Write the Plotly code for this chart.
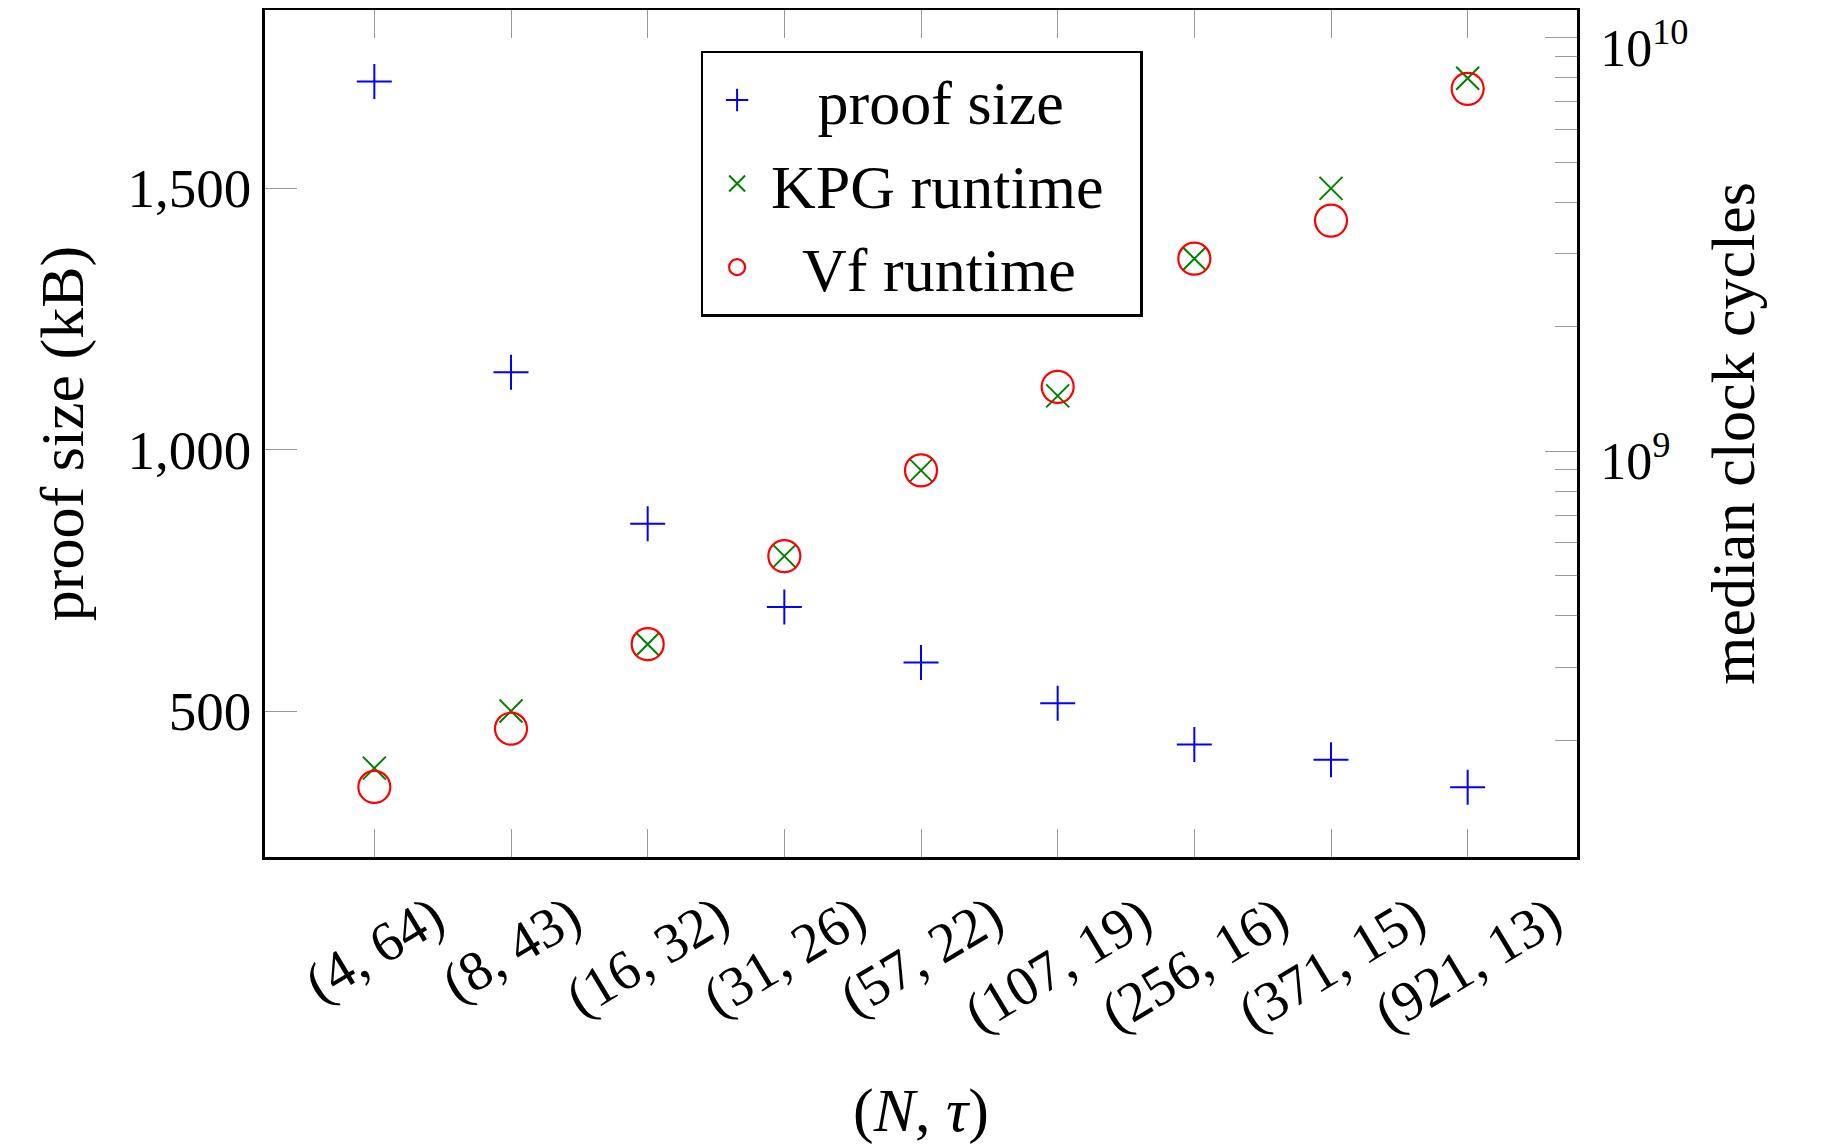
import plotly.graph_objects as go

labels = ["(4, 64)", "(8, 43)", "(16, 32)", "(31, 26)", "(57, 22)",
          "(107, 19)", "(256, 16)", "(371, 15)", "(921, 13)"]
proof_size = [1704, 1148, 858, 699, 593, 515, 436, 407, 354]
kpg_runtime = [1.71e8, 2.35e8, 3.41e8, 5.57e8, 8.98e8, 1.36e9, 2.92e9, 4.32e9, 7.98e9]
vf_runtime = [1.54e8, 2.13e8, 3.41e8, 5.57e8, 8.98e8, 1.43e9, 2.92e9, 3.61e9, 7.52e9]
left_ticks = [500, 1000, 1500]
left_ticktext = ["500", "1,000", "1,500"]
right_ticks = [1e9, 1e10]
right_ticktext = ["10<sup>9</sup>", "10<sup>10</sup>"]

FONT = "Liberation Serif"
NB = "\u00a0"

fig = go.Figure()
fig.add_trace(go.Scatter(
    x=labels, y=proof_size, mode="markers", name=NB * 3 + "proof size",
    marker=dict(symbol="cross-thin-open", size=25, color="#0000ff",
                line=dict(color="#0000ff", width=2.0)),
    yaxis="y"))
fig.add_trace(go.Scatter(
    x=labels, y=kpg_runtime, mode="markers", name="KPG runtime" + NB * 2,
    marker=dict(symbol="x-thin-open", size=23, color="#008000",
                line=dict(color="#008000", width=2.0)),
    yaxis="y2"))
fig.add_trace(go.Scatter(
    x=labels, y=vf_runtime, mode="markers", name=NB * 2 + "Vf runtime",
    marker=dict(symbol="circle-open", size=32, color="#ff0000",
                line=dict(color="#ff0000", width=2.2)),
    yaxis="y2"))

for lab in labels:
    fig.add_annotation(x=lab, y=-0.029, xref="x", yref="paper", text=lab,
                       showarrow=False, textangle=-31, xanchor="center",
                       yanchor="top", font=dict(family=FONT, size=56, color="black"))

fig.update_layout(
    width=1815, height=1138,
    margin=dict(l=257, r=246, t=2, b=289, pad=0, autoexpand=False),
    paper_bgcolor="white", plot_bgcolor="white",
    font=dict(family=FONT, size=55, color="black"),
    showlegend=True,
    legend=dict(x=0.332, y=0.952, xanchor="left", yanchor="top",
                bordercolor="black", borderwidth=2.5, bgcolor="white",
                font=dict(family=FONT, size=62), itemsizing="trace",
                itemwidth=58, tracegroupgap=0),
    xaxis=dict(type="category", range=[-0.8, 8.8], showgrid=False, zeroline=False,
               showline=True, linecolor="black", linewidth=2.5, mirror="ticks",
               ticks="inside", ticklen=28, tickcolor="#999999", tickwidth=1.2,
               showticklabels=False, automargin=False,
               title=dict(text="(<i>N</i>, <i>τ</i>)", font=dict(size=62), standoff=229)),
    yaxis=dict(range=[220.8, 1840.9], showgrid=False, zeroline=False,
               showline=True, linecolor="black", linewidth=2.5, mirror=True,
               ticks="inside", ticklen=32, tickcolor="#999999", tickwidth=1.2,
               tickvals=left_ticks, ticktext=left_ticktext, automargin=False,
               tickfont=dict(size=55),
               title=dict(text="proof size (kB)", font=dict(size=62), standoff=24)),
    yaxis2=dict(type="log", range=[8.018, 10.067], overlaying="y", side="right",
                showgrid=False, zeroline=False, showline=True, linecolor="black",
                linewidth=2.5, ticks="inside", ticklen=32, tickcolor="#999999",
                tickwidth=1.2, tickvals=right_ticks, ticktext=right_ticktext,
                automargin=False, ticklabeloverflow="allow", ticklabelstandoff=10,
                ticklabelshift=10,
                tickfont=dict(size=52),
                minor=dict(ticks="inside", ticklen=22, tickcolor="#999999",
                           tickwidth=1.2, dtick="D1", showgrid=False),
                title=dict(text="median clock cycles", font=dict(size=62), standoff=24)),
)

fig.write_html("out.html")
